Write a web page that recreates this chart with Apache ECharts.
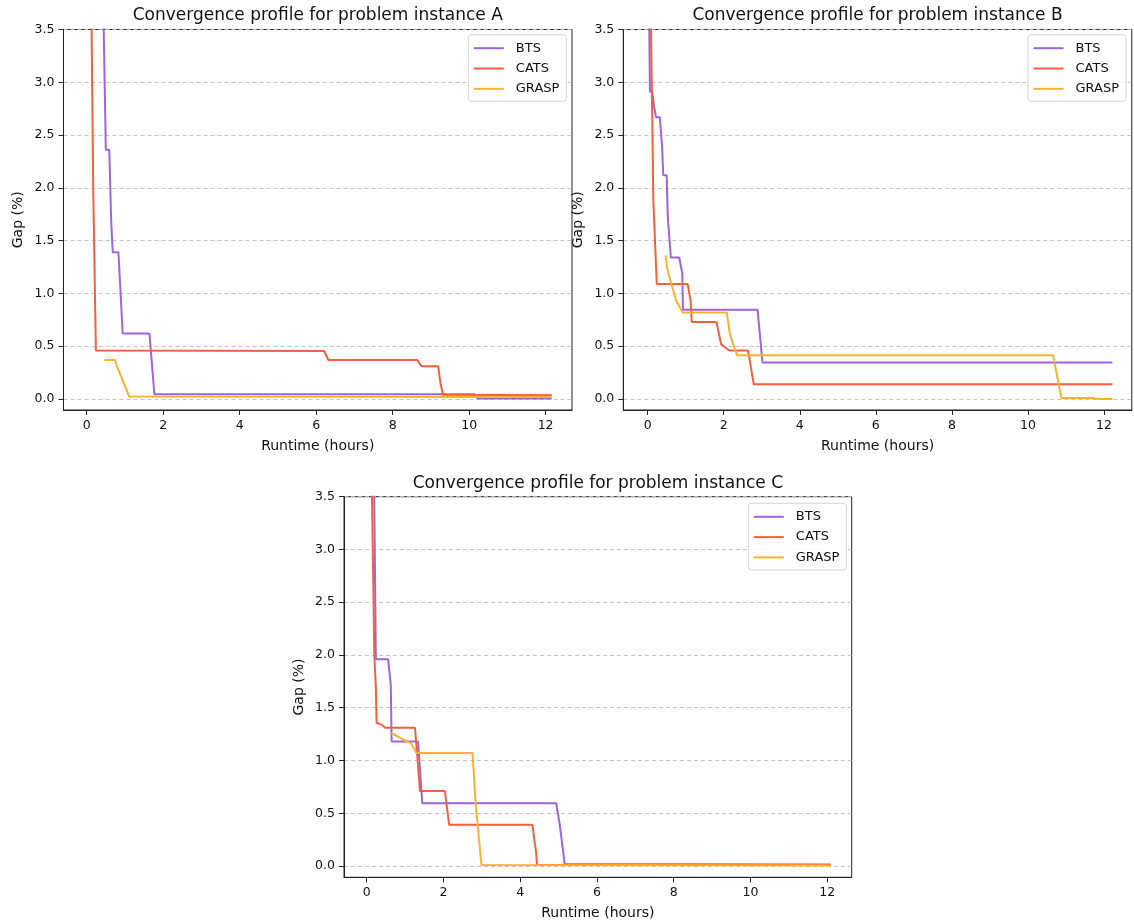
<!DOCTYPE html>
<html>
<head>
<meta charset="utf-8">
<script src="https://cdn.jsdelivr.net/npm/echarts@6/dist/echarts.min.js"></script>
<style>
html,body{margin:0;padding:0;background:#fff;}
#chart{width:1134px;height:923px;}
</style>
</head>
<body>
<div id="chart"></div>
<script>
// ---- data (runtime in hours, gap in %) ----
const seriesNames = ['BTS', 'CATS', 'GRASP'];
const panelTitles = [
  'Convergence profile for problem instance A',
  'Convergence profile for problem instance B',
  'Convergence profile for problem instance C'
];
const xTicks = [0, 2, 4, 6, 8, 10, 12];
const yTicks = [0.0, 0.5, 1.0, 1.5, 2.0, 2.5, 3.0, 3.5];

const A_BTS = [[0.42,4.0],[0.50,2.36],[0.59,2.36],[0.64,1.69],[0.68,1.39],[0.83,1.39],[0.94,0.62],[1.64,0.62],[1.77,0.045],[10.15,0.045],[10.22,0.005],[12.16,0.005]];
const A_CATS = [[0.10,4.5],[0.17,2.0],[0.24,0.46],[0.26,0.455],[6.21,0.455],[6.32,0.37],[8.64,0.37],[8.76,0.31],[9.19,0.31],[9.25,0.15],[9.32,0.04],[12.16,0.035]];
const A_GRASP = [[0.46,0.37],[0.74,0.37],[0.78,0.32],[1.11,0.025],[12.16,0.02]];

const B_BTS = [[0.03,4.0],[0.06,2.91],[0.12,2.91],[0.17,2.77],[0.22,2.67],[0.32,2.67],[0.38,2.39],[0.41,2.12],[0.50,2.12],[0.53,1.72],[0.61,1.34],[0.83,1.34],[0.91,1.19],[0.93,0.845],[2.89,0.845],[3.02,0.345],[12.22,0.345]];
const B_CATS = [[0.07,4.0],[0.15,1.88],[0.24,1.09],[1.05,1.09],[1.13,0.93],[1.16,0.73],[1.81,0.73],[1.93,0.52],[2.00,0.50],[2.15,0.46],[2.64,0.46],[2.79,0.14],[12.22,0.14]];
const B_GRASP = [[0.47,1.36],[0.52,1.23],[0.60,1.12],[0.75,0.93],[0.89,0.84],[0.92,0.82],[2.08,0.82],[2.16,0.62],[2.22,0.55],[2.35,0.415],[10.66,0.415],[10.88,0.01],[11.71,0.01],[11.85,0.0],[12.22,0.0]];

const C_BTS = [[0.17,4.5],[0.24,1.96],[0.56,1.96],[0.63,1.71],[0.65,1.18],[1.34,1.18],[1.45,0.595],[4.94,0.595],[5.03,0.40],[5.16,0.02],[12.10,0.015]];
const C_CATS = [[0.10,4.5],[0.20,1.99],[0.24,1.70],[0.26,1.355],[0.39,1.34],[0.48,1.31],[1.26,1.31],[1.32,1.04],[1.39,0.71],[2.04,0.71],[2.15,0.39],[4.32,0.39],[4.38,0.22],[4.41,0.15],[4.44,0.01],[12.10,0.01]];
const C_GRASP = [[0.65,1.26],[0.90,1.21],[1.15,1.165],[1.30,1.07],[2.76,1.07],[2.84,0.595],[2.99,0.01],[12.10,0.005]];

const panelData = [
  [A_BTS, A_CATS, A_GRASP],
  [B_BTS, B_CATS, B_GRASP],
  [C_BTS, C_CATS, C_GRASP]
];
const colors = ['#a063e0', '#f4603d', '#fbb130'];

// ---- layout ----
const FONT = 'DejaVu Sans';
const grids = [
  {left: 63.5, top: 29.5, width: 508.5, height: 380.5},
  {left: 623.3, top: 29.5, width: 508.5, height: 380.5},
  {left: 344, top: 496.7, width: 507.7, height: 380.6}
];
const xRanges = [[-0.607, 12.69], [-0.64, 12.73], [-0.59, 12.64]];
const yRanges = [[-0.104, 3.5], [-0.104, 3.5], [-0.107, 3.5]];
const legendPos = [{left: 468.3, top: 34.7}, {left: 1028, top: 34.7}, {left: 748.3, top: 503.3}];

const option = {
  animation: false,
  backgroundColor: '#fff',
  textStyle: {fontFamily: FONT},
  title: panelTitles.map((t, i) => ({
    text: t,
    left: grids[i].left + grids[i].width / 2,
    top: grids[i].top - 22,
    textAlign: 'center',
    padding: 0,
    textStyle: {fontFamily: FONT, fontSize: 17, fontWeight: 'normal', color: '#111'}
  })),
  grid: grids.map(g => Object.assign({
    show: true, borderColor: '#222', borderWidth: 1, backgroundColor: 'transparent',
    containLabel: false, outerBoundsMode: 'none'
  }, g)),
  legend: legendPos.map((p, i) => ({
    data: seriesNames,
    orient: 'vertical',
    left: p.left, top: p.top,
    itemWidth: 30, itemHeight: 14, itemGap: 7.3,
    padding: [7, 7, 6, 4.5],
    backgroundColor: 'rgba(255,255,255,0.85)',
    borderColor: '#d4d4d4', borderWidth: 1, borderRadius: 3,
    selectedMode: false,
    itemStyle: {color: 'rgba(0,0,0,0)', borderColor: 'rgba(0,0,0,0)', borderWidth: 0, opacity: 0},
    lineStyle: {width: 2},
    textStyle: {fontFamily: FONT, fontSize: 13, color: '#111', padding: [0, 0, 0, 7]}
  })),
  xAxis: grids.map((g, i) => ({
    type: 'value', gridIndex: i,
    min: xRanges[i][0], max: xRanges[i][1],
    name: 'Runtime (hours)', nameLocation: 'middle', nameGap: 29,
    nameTextStyle: {fontFamily: FONT, fontSize: 14, color: '#111'},
    axisLine: {show: true, onZero: false, lineStyle: {color: '#222', width: 1}},
    axisTick: {show: true, length: 5, inside: false, customValues: xTicks, lineStyle: {color: '#222'}},
    axisLabel: {show: true, customValues: xTicks, margin: 9, fontSize: 12.5, color: '#111', fontFamily: FONT,
      formatter: v => String(Math.round(v))},
    splitLine: {show: false}
  })),
  yAxis: grids.map((g, i) => ({
    type: 'value', gridIndex: i,
    min: yRanges[i][0], max: yRanges[i][1],
    name: 'Gap (%)', nameLocation: 'middle', nameGap: 38, nameRotate: 90,
    nameTextStyle: {fontFamily: FONT, fontSize: 14, color: '#111'},
    axisLine: {show: true, onZero: false, lineStyle: {color: '#222', width: 1}},
    axisTick: {show: true, length: 5, inside: false, customValues: yTicks, lineStyle: {color: '#222'}},
    axisLabel: {show: true, customValues: yTicks, margin: 9, fontSize: 12.5, color: '#111', fontFamily: FONT,
      formatter: v => v.toFixed(1)},
    splitLine: {show: true, customValues: yTicks, lineStyle: {color: '#bdbdbd', type: [4, 3], width: 0.9}}
  })),
  series: []
};

panelData.forEach((arrs, p) => {
  arrs.forEach((d, k) => {
    option.series.push({
      name: seriesNames[k],
      type: 'line',
      xAxisIndex: p, yAxisIndex: p,
      data: d,
      symbol: 'none', showSymbol: false,
      clip: true,
      z: 3 + k,
      lineStyle: {color: colors[k], width: 2},
      itemStyle: {color: colors[k]}
    });
  });
});

const chart = echarts.init(document.getElementById('chart'), null, {renderer: 'canvas'});
chart.setOption(option);
</script>
</body>
</html>
